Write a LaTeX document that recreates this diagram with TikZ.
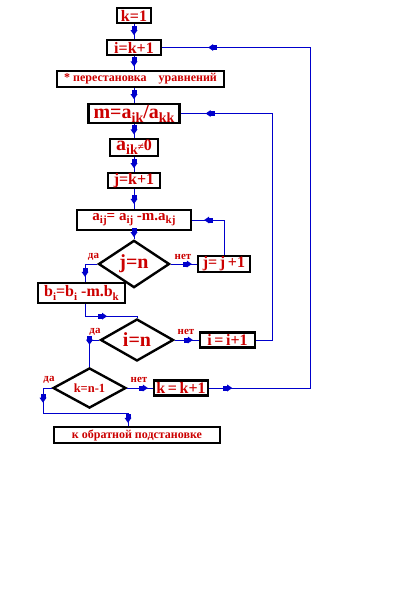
\documentclass[tikz,border=0pt]{standalone}
\usepackage{fontspec}
\setmainfont{Liberation Serif}
\usetikzlibrary{shapes.geometric,arrows.meta,decorations.markings}
\definecolor{tred}{RGB}{204,0,0}
\definecolor{tblue}{RGB}{0,0,204}
\newcommand\sbs[2]{\raisebox{-0.45ex}{\fontsize{#1}{#1}\selectfont #2}}
\newcommand\fsz[1]{\fontsize{#1}{#1}\selectfont}
\newcommand\atip{\fill[tblue] (-9,-2.5) rectangle (-4,2.5); \fill[tblue] (-5,-3.5) -- (0,0) -- (-5,3.5) -- cycle;}
\begin{document}
\begin{tikzpicture}[x=1pt,y=-1pt,
  box/.style={draw=black, line width=2.4pt, rectangle, inner sep=0pt, text=tred, align=center},
  dia/.style={draw=black, line width=2.4pt, diamond, inner sep=0pt, text=tred},
  fs/.style={font=\bfseries\fsz{#1}},
  flow/.style={draw=tblue, line width=1pt},
  mtip/.style={postaction={decorate}, decoration={markings, mark=at position #1 with {\atip}}},
  mtiptwo/.style 2 args={postaction={decorate}, decoration={markings, mark=at position #1 with {\atip}, mark=at position #2 with {\atip}}},
  lbl/.style={text=tred, font=\bfseries\fsz{11}, inner sep=0pt},
]
\fill[white] (0,0) rectangle (400,600);
\useasboundingbox (0,0) rectangle (400,600);

\node[box, fs=16, minimum width=34pt, minimum height=15pt] (k1) at (134,15.5) {k=1};
\node[box, fs=16, minimum width=54pt, minimum height=15pt] (ik1) at (134,47.5) {i=k+1};
\node[box, fs=12, minimum width=167pt, minimum height=16pt] (perm) at (140.5,79) {* перестановка\quad уравнений};
\node[box, fs=20, minimum width=91pt, minimum height=19pt] (m) at (134,113.5) {m=a\sbs{14}{ik}/a\sbs{14}{kk}};
\node[box, fs=20, minimum width=48pt, minimum height=17pt] (aik) at (134,147.5) {a\sbs{14}{ik}{\fsz{11}≠}{\fsz{16}0}};
\node[box, fs=16, minimum width=52pt, minimum height=15pt] (jk1) at (134,180.5) {j=k+1};
\node[box, fs=15, minimum width=114pt, minimum height=20pt] (aij) at (134,220) {a\sbs{11}{ij}= a\sbs{11}{ij} -m.a\sbs{11}{kj}};
\node[dia, fs=20, minimum width=71pt, minimum height=32pt] (jn) at (134,264) {j=n};
\node[box, fs=16, minimum width=52pt, minimum height=16pt] (jj1) at (224,264) {j=\,j\,+1};
\node[box, fs=16, minimum width=87pt, minimum height=20pt] (bi) at (81.5,293) {b\sbs{11}{i}=b\sbs{11}{i} -m.b\sbs{11}{k}};
\node[dia, fs=20, minimum width=73pt, minimum height=32pt] (in) at (137,340) {i=n};
\node[box, fs=16, minimum width=55pt, minimum height=15pt] (ii1) at (227.5,340) {i\,=\,i+1};
\node[dia, fs=12.5, minimum width=73pt, minimum height=26pt] (kn1) at (89.5,388) {k=n-1};
\node[box, fs=16, minimum width=54pt, minimum height=15pt] (kk1) at (181,388) {k\,=\,k+1};
\node[box, fs=12, minimum width=166pt, minimum height=16pt] (fin) at (137,435) {к обратной подстановке};

\coordinate (rA) at (310,47.5);
\coordinate (rB) at (272,113.5);
\coordinate (bL) at (43,413);

\draw[flow, mtip=0.75] (k1) -- (ik1);
\draw[flow, mtip=0.75] (ik1.south) -- (ik1.south |- perm.north);
\draw[flow, mtip=0.75] (m.north |- perm.south) -- (m.north);
\draw[flow, mtip=0.75] (m) -- (aik);
\draw[flow, mtip=0.75] (aik) -- (jk1);
\draw[flow, mtip=0.75] (jk1) -- (aij);
\draw[flow, mtip=0.75] (aij) -- (jn);
\draw[flow, mtip=-5pt] (jn.east) -- (jj1.west);
\draw[flow, mtip=-12pt] (jj1.north) |- (aij.east);
\draw[flow, mtip=-5pt] (jn.west) -| ([xshift=3.5pt]bi.north);
\draw[flow, mtip=34pt] ([xshift=3.5pt]bi.south) -- ++(0,12) -| (in.north);
\draw[flow, mtip=-6pt] (in.east) -- (ii1.west);
\draw[flow, mtip=-25pt] (ii1.east) -| (rB) -- (m.east);
\draw[flow, mtip=-22pt] (in.west) -| (kn1.north);
\draw[flow, mtip=-5pt] (kn1.east) -- (kk1.west);
\draw[flow, mtiptwo={23pt}{-46pt}] (kk1.east) -| (rA) -- (ik1.east);
\draw[flow, mtiptwo={23.5pt}{-3pt}] (kn1.west) -| (bL) -| ([xshift=-9pt]fin.north);

\node[lbl] (da1) at (93.5,257) {да};
\node[lbl] (net1) at (183,257) {нет};
\node[lbl] (da2) at (95,332) {да};
\node[lbl] (net2) at (186,332) {нет};
\node[lbl] (da3) at (49,380) {да};
\node[lbl] (net3) at (139,380) {нет};
\end{tikzpicture}
\end{document}
